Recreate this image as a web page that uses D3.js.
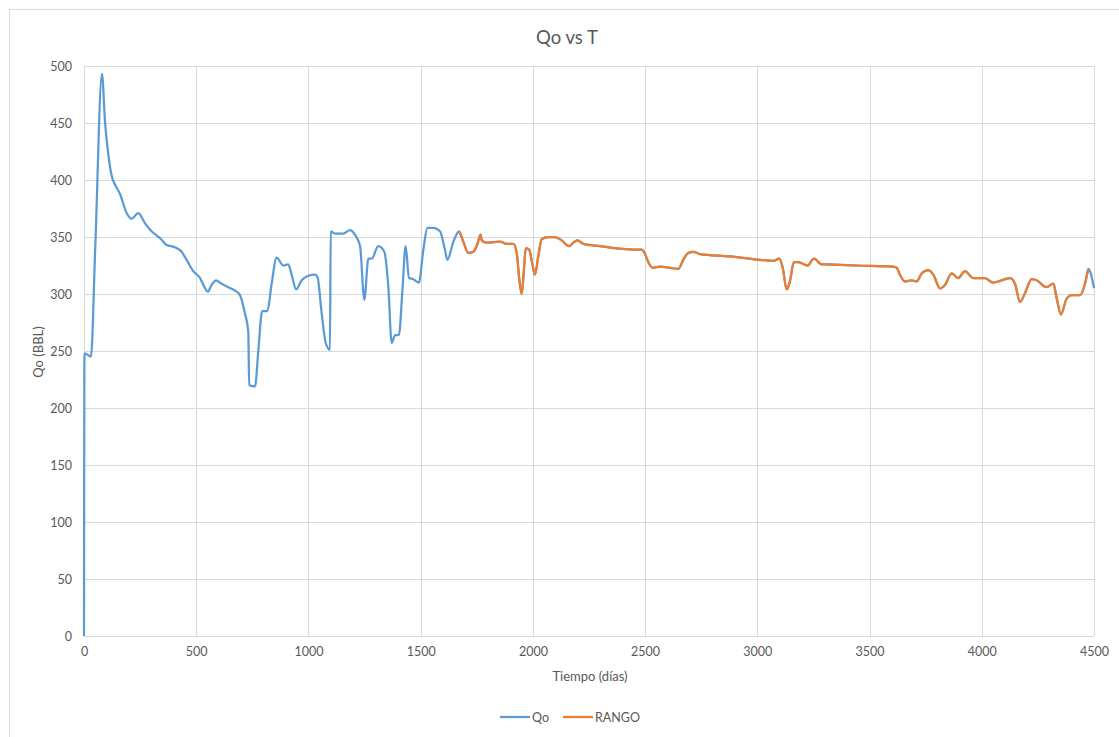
<!DOCTYPE html>
<html>
<head>
<meta charset="utf-8">
<script src="https://cdn.jsdelivr.net/npm/d3@7"></script>
<style>
  body { margin: 0; background: #fff; }
  svg { display: block; font-family: Lato, "Open Sans", sans-serif; }
</style>
</head>
<body>
<div id="chart"></div>
<script>
// Tiempo (días) y caudal Qo
const tDias = [
  0, 2, 31, 50, 80, 94, 108, 123, 138, 160, 190, 212, 242, 272, 301, 339, 368, 405, 435, 457, 487,
  517, 532, 551, 569, 588, 613, 643, 673, 695, 717, 732, 736, 762, 777, 794, 817, 836, 858, 888, 910,
  925, 945, 970, 999, 1029, 1040, 1059, 1077, 1096, 1099, 1118, 1155, 1185, 1207, 1230, 1249, 1267, 1282, 1311, 1338,
  1356, 1371, 1386, 1403, 1418, 1433, 1448, 1467, 1492, 1512, 1530, 1556, 1586, 1608, 1619, 1646, 1671, 1690, 1712, 1735,
  1753, 1767, 1772, 1794, 1853, 1883, 1913, 1928, 1940, 1950, 1960, 1968, 1983, 1997, 2009, 2024, 2039, 2069, 2098, 2128,
  2161, 2180, 2198, 2225, 2299, 2373, 2447, 2485, 2495, 2514, 2534, 2566, 2611, 2648, 2670, 2692, 2715, 2745, 2878, 2923,
  3012, 3071, 3098, 3113, 3131, 3145, 3163, 3182, 3224, 3252, 3287, 3309, 3442, 3606, 3621, 3635, 3658, 3688, 3710, 3732,
  3762, 3784, 3814, 3836, 3866, 3895, 3925, 3962, 4014, 4051, 4089, 4126, 4148, 4170, 4193, 4222, 4244, 4289, 4319, 4334,
  4353, 4378, 4401, 4438, 4460, 4475, 4500
];
const qo = [
  0, 248, 245, 340, 493, 450, 423, 404, 396, 388, 371, 366, 371, 362, 355, 349, 343, 341, 337, 330, 320,
  314, 308, 302, 308, 312, 309, 306, 303, 299, 283, 267, 220, 219, 251, 285, 285, 309, 332, 325, 326,
  317, 304, 312, 316, 317, 315, 283, 257, 251, 355, 353, 353, 356, 352, 342, 295, 331, 331, 342, 337,
  306, 257, 264, 264, 301, 342, 314, 313, 310, 339, 358, 358, 355, 339, 330, 346, 355, 346, 336, 337,
  344, 352, 347, 345, 346, 344, 344, 336, 312, 300, 321, 340, 339, 327, 317, 333, 348, 350, 350, 347,
  342, 345, 347, 344, 342, 340, 339, 339, 337, 328, 323, 324, 323, 322, 330, 336, 337, 335, 333, 332,
  330, 329, 331, 323, 304, 311, 328, 328, 325, 331, 326, 326, 325, 324, 323, 317, 311, 312, 311, 318,
  321, 317, 305, 308, 318, 314, 320, 314, 314, 310, 312, 314, 309, 293, 301, 313, 312, 306, 309, 296,
  282, 296, 299, 299, 309, 322, 305
];
// tramo marcado como RANGO
const rangoDesde = 1671;
const rangoHasta = 4475;

const xTicks = [0, 500, 1000, 1500, 2000, 2500, 3000, 3500, 4000, 4500];
const yTicks = [0, 50, 100, 150, 200, 250, 300, 350, 400, 450, 500];

const width = 1119;
const height = 737;
const textColor = "#595959";
const gridColor = "#d9d9d9";

const data = tDias.map((t, i) => ({ t: t, q: qo[i] }));
const rango = data.filter(d => d.t >= rangoDesde && d.t <= rangoHasta);

const svg = d3.select("#chart")
  .append("svg")
  .attr("width", width)
  .attr("height", height);

svg.append("rect")
  .attr("width", width)
  .attr("height", height)
  .attr("fill", "#fff");

// borde del área del gráfico
svg.append("rect")
  .attr("x", 9.5)
  .attr("y", 9.5)
  .attr("width", width)
  .attr("height", height)
  .attr("fill", "none")
  .attr("stroke", gridColor);

const x = d3.scaleLinear().domain([0, 4500]).range([84, 1094]);
const y = d3.scaleLinear().domain([0, 500]).range([636, 66]);

// rejilla
svg.append("g")
  .selectAll("line")
  .data(yTicks)
  .join("line")
  .attr("x1", x(0))
  .attr("x2", x(4500))
  .attr("y1", d => Math.round(y(d)) + 0.5)
  .attr("y2", d => Math.round(y(d)) + 0.5)
  .attr("stroke", gridColor);

svg.append("g")
  .selectAll("line")
  .data(xTicks)
  .join("line")
  .attr("x1", d => Math.round(x(d)) + 0.5)
  .attr("x2", d => Math.round(x(d)) + 0.5)
  .attr("y1", y(0))
  .attr("y2", y(500))
  .attr("stroke", gridColor);

// ejes
const yAxis = svg.append("g")
  .attr("transform", `translate(${x(0)},0)`)
  .call(d3.axisLeft(y).tickValues(yTicks).tickSize(0).tickPadding(12));
const xAxis = svg.append("g")
  .attr("transform", `translate(0,${y(0)})`)
  .call(d3.axisBottom(x).tickValues(xTicks).tickSize(0).tickPadding(11).tickFormat(d3.format("d")));

[xAxis, yAxis].forEach(a => {
  a.select(".domain").remove();
  a.selectAll("text")
    .attr("fill", textColor)
    .style("font-size", "12.5px")
    .style("font-family", "Lato, 'Open Sans', sans-serif");
});

// líneas suavizadas
const line = d3.line()
  .x(d => x(d.t))
  .y(d => y(d.q))
  .curve(d3.curveMonotoneX);

svg.append("path")
  .datum(data)
  .attr("fill", "none")
  .attr("stroke", "#5b9bd5")
  .attr("stroke-width", 2.25)
  .attr("stroke-linejoin", "round")
  .attr("d", line);

svg.append("path")
  .datum(rango)
  .attr("fill", "none")
  .attr("stroke", "#ed7d31")
  .attr("stroke-width", 2.25)
  .attr("stroke-linejoin", "round")
  .attr("d", line);

// títulos
svg.append("text")
  .attr("x", 567)
  .attr("y", 44)
  .attr("text-anchor", "middle")
  .attr("fill", textColor)
  .style("font-size", "18.5px")
  .text("Qo vs T");

svg.append("text")
  .attr("transform", "translate(43,352) rotate(-90)")
  .attr("text-anchor", "middle")
  .attr("fill", textColor)
  .style("font-size", "13px")
  .text("Qo (BBL)");

svg.append("text")
  .attr("x", 590)
  .attr("y", 681)
  .attr("text-anchor", "middle")
  .attr("fill", textColor)
  .style("font-size", "13px")
  .text("Tiempo (días)");

// leyenda
const legend = [
  { name: "Qo", color: "#5b9bd5", x: 500 },
  { name: "RANGO", color: "#ed7d31", x: 563 }
];
const lg = svg.append("g")
  .selectAll("g")
  .data(legend)
  .join("g")
  .attr("transform", d => `translate(${d.x},717)`);
lg.append("line")
  .attr("x1", 0)
  .attr("x2", 30)
  .attr("stroke", d => d.color)
  .attr("stroke-width", 2.25);
lg.append("text")
  .attr("x", 32)
  .attr("y", 4.5)
  .attr("fill", textColor)
  .style("font-size", "12.5px")
  .text(d => d.name);
</script>
</body>
</html>
